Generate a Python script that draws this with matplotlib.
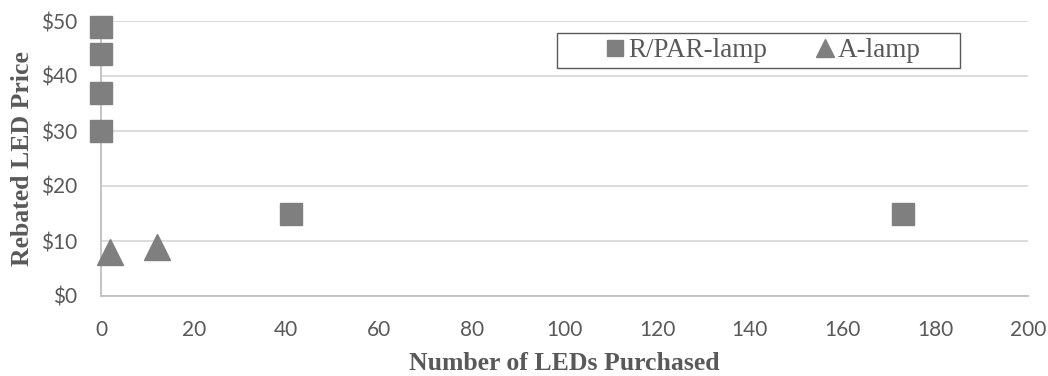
import matplotlib
matplotlib.use("Agg")
import matplotlib.pyplot as plt
from matplotlib.ticker import FuncFormatter
from matplotlib.patches import Rectangle

rpar_x = [0, 0, 0, 0, 41, 173]
rpar_y = [49, 44, 37, 30, 15, 15]
alamp_x = [2, 12]
alamp_y = [8, 9]
x_ticks = [0, 20, 40, 60, 80, 100, 120, 140, 160, 180, 200]
y_ticks = [0, 10, 20, 30, 40, 50]

gray = "#7f7f7f"
text_gray = "#595959"
fig = plt.figure(figsize=(10.48, 3.76), dpi=100)
ax = fig.add_axes([101/1048, 1-296/376, (1028-101)/1048, (296-21)/376])

ax.plot(rpar_x, rpar_y, linestyle="none", marker="s", markersize=16, color=gray,
        label="R/PAR-lamp", clip_on=False, zorder=3)
ax.plot(alamp_x, alamp_y, linestyle="none", marker="^", markersize=19, color=gray,
        label="A-lamp", clip_on=False, zorder=3)

ax.set_xlim(0, 200)
ax.set_ylim(0, 50)
ax.set_xticks(x_ticks)
ax.set_yticks(y_ticks)
ax.yaxis.set_major_formatter(FuncFormatter(lambda v, p: f"${int(v)}"))
ax.grid(axis="y", color="#d9d9d9", linewidth=1.3)
ax.set_axisbelow(True)
for s in ["top", "right"]:
    ax.spines[s].set_visible(False)
for s in ["left", "bottom"]:
    ax.spines[s].set_color("#bfbfbf")
    ax.spines[s].set_linewidth(1.3)
ax.tick_params(length=0, labelsize=15, labelcolor=text_gray, pad=17)
for lab in ax.get_xticklabels() + ax.get_yticklabels():
    lab.set_family("Lato")

ax.set_xlabel("Number of LEDs Purchased", family="Liberation Serif", weight="bold",
              fontsize=18.5, color=text_gray, labelpad=9)
ax.set_ylabel("Rebated LED Price", family="Liberation Serif", weight="bold",
              fontsize=18.5, color=text_gray, labelpad=5)

# legend frame (Excel-style fixed box)
ax.add_patch(Rectangle(((557-101)/927, 1-(68-21)/275), (960-557)/927, 35/275,
                       transform=ax.transAxes, fill=False, edgecolor=text_gray,
                       linewidth=1.0, clip_on=False, zorder=4))
leg = ax.legend(loc="center left", bbox_to_anchor=((604-101)/927, 1-(50.5-21)/275),
                ncol=2, frameon=False, markerscale=0.7,
                prop={"family": "Liberation Serif", "size": 19.5},
                handlelength=0.8, handletextpad=0.08, columnspacing=1.75,
                borderpad=0, borderaxespad=0)
for t in leg.get_texts():
    t.set_color(text_gray)

fig.savefig("out.png", dpi=100)
